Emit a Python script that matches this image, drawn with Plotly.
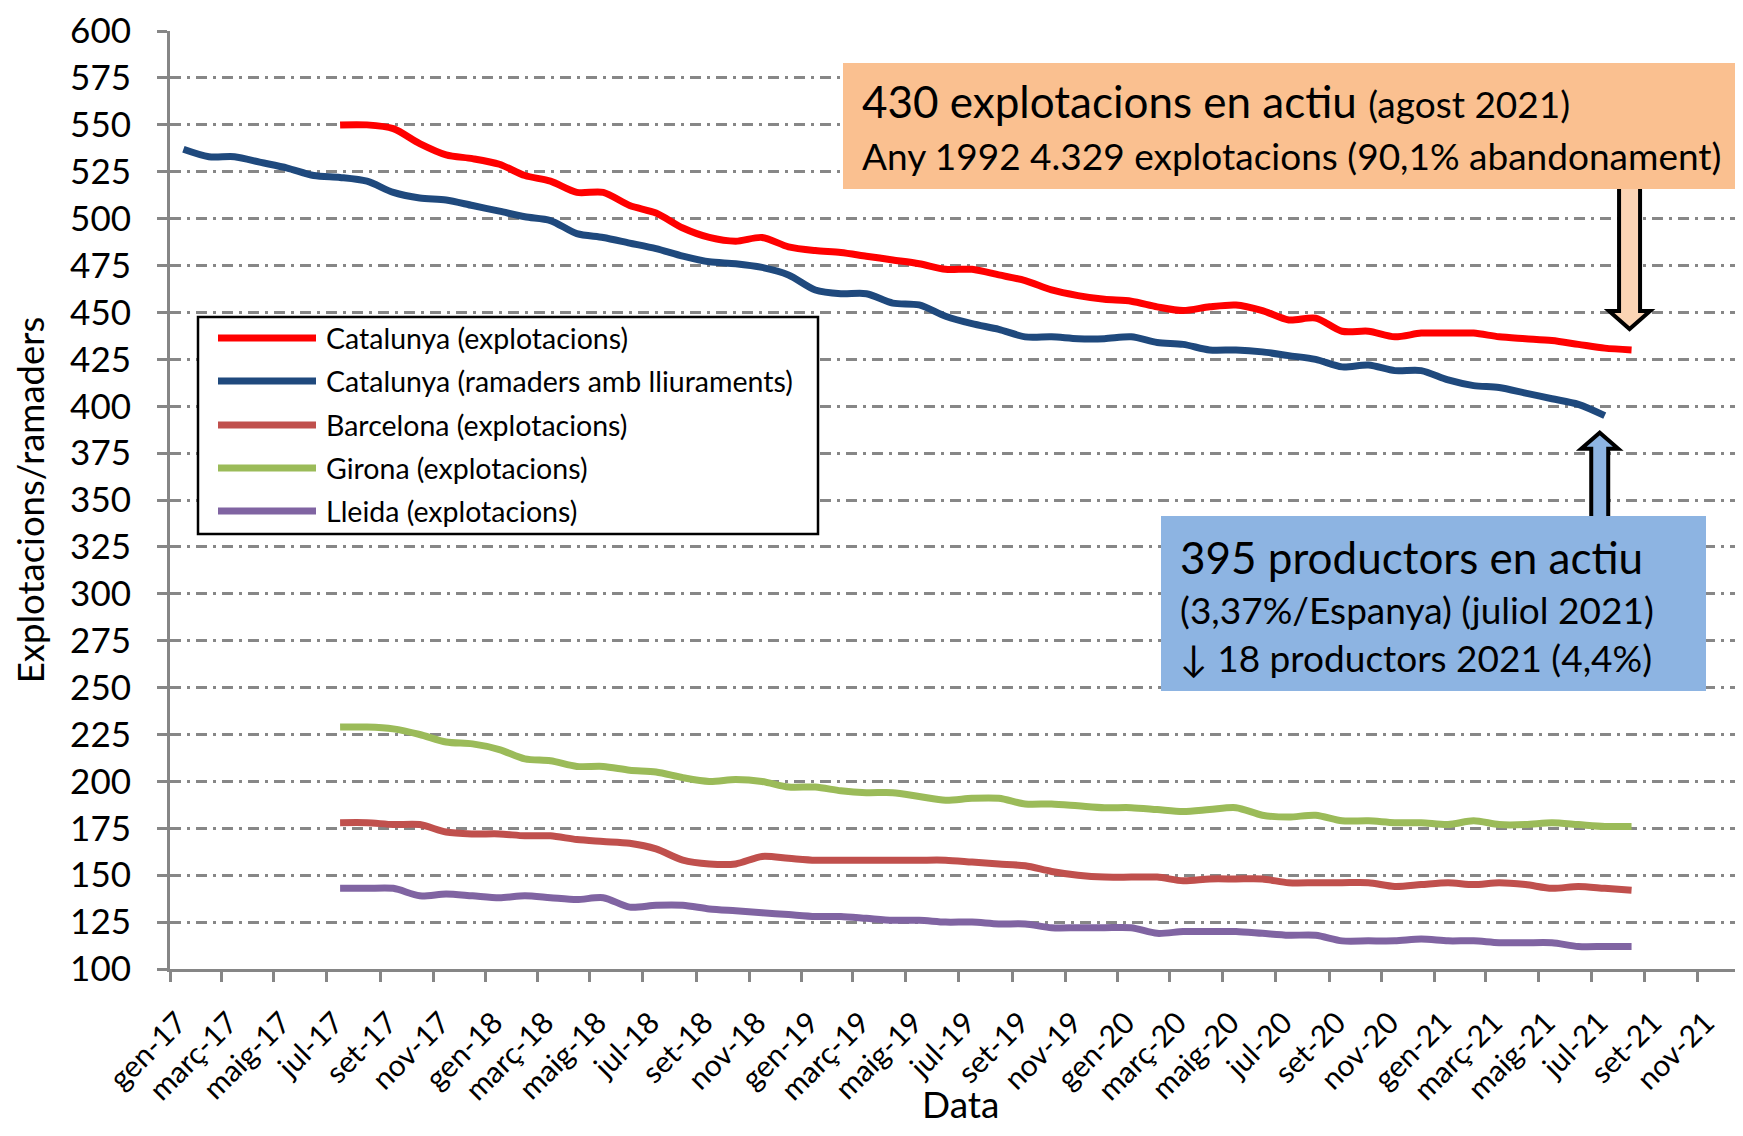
import pandas as pd
import plotly.graph_objects as go

# ---------------- data ----------------
months = pd.date_range("2017-01-01", "2021-08-01", freq="MS")

# Catalunya (ramaders amb lliuraments): gen-17 ... jul-21
cat_ramaders = [537, 533, 533, 530, 527, 523, 522, 520, 514, 511, 510, 507,
                504, 501, 499, 492, 490, 487, 484, 480, 477, 476, 474, 470,
                462, 460, 460, 455, 454, 448, 444, 441, 437, 437, 436, 436,
                437, 434, 433, 430, 430, 429, 427, 425, 421, 422, 419, 419,
                414, 411, 410, 407, 404, 401, 395]

# Series below: jul-17 ... ago-21
cat_explotacions = [550, 550, 548, 540, 534, 532,
                    529, 523, 520, 514, 514, 507, 503, 495, 490, 488, 490, 485,
                    483, 482, 480, 478, 476, 473, 473, 470, 467, 462, 459, 457,
                    456, 453, 451, 453, 454, 451, 446, 447, 440, 440, 437, 439,
                    439, 439, 437, 436, 435, 433, 431, 430]
barcelona = [178, 178, 177, 177, 173, 172,
             172, 171, 171, 169, 168, 167, 164, 158, 156, 156, 160, 159,
             158, 158, 158, 158, 158, 158, 157, 156, 155, 152, 150, 149,
             149, 149, 147, 148, 148, 148, 146, 146, 146, 146, 144, 145,
             146, 145, 146, 145, 143, 144, 143, 142]
girona = [229, 229, 228, 225, 221, 220,
          217, 212, 211, 208, 208, 206, 205, 202, 200, 201, 200, 197,
          197, 195, 194, 194, 192, 190, 191, 191, 188, 188, 187, 186,
          186, 185, 184, 185, 186, 182, 181, 182, 179, 179, 178, 178,
          177, 179, 177, 177, 178, 177, 176, 176]
lleida = [143, 143, 143, 139, 140, 139,
          138, 139, 138, 137, 138, 133, 134, 134, 132, 131, 130, 129,
          128, 128, 127, 126, 126, 125, 125, 124, 124, 122, 122, 122,
          122, 119, 120, 120, 120, 119, 118, 118, 115, 115, 115, 116,
          115, 115, 114, 114, 114, 112, 112, 112]

series_names = ["Catalunya (explotacions)",
                "Catalunya (ramaders amb lliuraments)",
                "Barcelona (explotacions)",
                "Girona (explotacions)",
                "Lleida (explotacions)"]
series_colors = ["#FF0000", "#1F497D", "#C0504D", "#9BBB59", "#8064A2"]

tick_dates = pd.date_range("2017-01-01", "2021-11-01", freq="2MS")
tick_labels = ["gen-17", "març-17", "maig-17", "jul-17", "set-17", "nov-17",
               "gen-18", "març-18", "maig-18", "jul-18", "set-18", "nov-18",
               "gen-19", "març-19", "maig-19", "jul-19", "set-19", "nov-19",
               "gen-20", "març-20", "maig-20", "jul-20", "set-20", "nov-20",
               "gen-21", "març-21", "maig-21", "jul-21", "set-21", "nov-21"]

x_title = "Data"
y_title = "Explotacions/ramaders"
box1_line1 = "430 explotacions en actiu"
box1_line1b = "(agost 2021)"
box1_line2 = "Any 1992 4.329 explotacions (90,1% abandonament)"
box2_lines = ["395 productors en actiu",
              "(3,37%/Espanya) (juliol 2021)",
              "\u2193 18 productors 2021 (4,4%)"]

# ---------------- geometry ----------------
OFF = 8                      # default page (body) margin of the html page
PAGE_W, PAGE_H = 1743, 1136
FIG_W, FIG_H = PAGE_W - 2 * OFF, PAGE_H - 2 * OFF
PL, PR, PT, PB = 170, 1735, 31, 969          # plot area in page pixels
ML, MT = PL - OFF, PT - OFF
MR = FIG_W - (PR - OFF)
MB = FIG_H - (PB - OFF)
FONT = "Lato"


def px(x):
    return (x - PL) / (PR - PL)


def py(y):
    return (PB - y) / (PB - PT)


m_ram = months[:len(cat_ramaders)]
m_oth = months[6:6 + len(cat_explotacions)]
series_x = [m_oth, m_ram, m_oth, m_oth, m_oth]
series_y = [cat_explotacions, cat_ramaders, barcelona, girona, lleida]

fig = go.Figure()
for name, col, xs, ys in zip(series_names, series_colors, series_x, series_y):
    fig.add_trace(go.Scatter(
        x=xs, y=ys, name=name, mode="lines",
        line=dict(color=col, width=7, shape="spline", smoothing=0.8),
        xperiod="M1", xperiodalignment="middle", showlegend=False))

shapes = []
annotations = []


# ----- arrows (anchored at the last data points, pixel offsets) -----
def mid_month(d):
    nxt = d + pd.offsets.MonthBegin(1)
    return (d + (nxt - d) / 2).strftime("%Y-%m-%d %H:%M:%S")


def arrow_path(cx, shaft_hw, head_hw, tip, base, end):
    return (f"M {cx - shaft_hw},{end} L {cx - shaft_hw},{base} L {cx - head_hw},{base} "
            f"L {cx},{tip} L {cx + head_hw},{base} L {cx + shaft_hw},{base} "
            f"L {cx + shaft_hw},{end} Z")


shapes.append(dict(type="path", xref="x", yref="y", xsizemode="pixel", ysizemode="pixel",
                   xanchor=mid_month(m_oth[-1]), yanchor=cat_explotacions[-1],
                   path=arrow_path(-2, 10.5, 20.5, 21, 39, 170),
                   fillcolor="#FBD4B4", line=dict(color="black", width=4), layer="above"))
shapes.append(dict(type="path", xref="x", yref="y", xsizemode="pixel", ysizemode="pixel",
                   xanchor=mid_month(m_ram[-1]), yanchor=cat_ramaders[-1],
                   path=arrow_path(-5, 8.5, 18.5, -17, -33, -112),
                   fillcolor="#8DB4E2", line=dict(color="black", width=4), layer="above"))

# ----- text boxes -----
shapes.append(dict(type="rect", xref="paper", yref="paper",
                   x0=px(843), x1=px(1760), y0=py(189), y1=py(63),
                   fillcolor="#FAC090", line=dict(width=0), layer="above"))
shapes.append(dict(type="rect", xref="paper", yref="paper",
                   x0=px(1161), x1=px(1706), y0=py(691), y1=py(516),
                   fillcolor="#8DB4E2", line=dict(width=0), layer="above"))

annotations.append(dict(xref="paper", yref="paper", x=px(860), y=py(101),
                        xanchor="left", yanchor="middle", showarrow=False,
                        text=f"{box1_line1} <span style='font-size:37px'>{box1_line1b}</span>",
                        font=dict(family=FONT, size=44, color="black")))
annotations.append(dict(xref="paper", yref="paper", x=px(860), y=py(155),
                        xanchor="left", yanchor="middle", showarrow=False,
                        text=box1_line2, font=dict(family=FONT, size=37, color="black")))
for txt, yy, fs in zip(box2_lines, [557, 609, 657], [44, 37, 37]):
    annotations.append(dict(xref="paper", yref="paper", x=px(1178), y=py(yy),
                            xanchor="left", yanchor="middle", showarrow=False,
                            text=txt, font=dict(family=FONT, size=fs, color="black")))

# ----- legend (drawn as a framed box with long line samples) -----
shapes.append(dict(type="rect", xref="paper", yref="paper",
                   x0=px(198), x1=px(818), y0=py(534), y1=py(317),
                   fillcolor="white", line=dict(color="black", width=2.5), layer="above"))
legend_rows = [338, 381, 425, 468, 511]
for name, col, yy in zip(series_names, series_colors, legend_rows):
    shapes.append(dict(type="line", xref="paper", yref="paper",
                       x0=px(218), x1=px(316), y0=py(yy), y1=py(yy),
                       line=dict(color=col, width=7), layer="above"))
    annotations.append(dict(xref="paper", yref="paper", x=px(324), y=py(yy),
                            xanchor="left", yanchor="middle", showarrow=False,
                            text=name, font=dict(family=FONT, size=28.5, color="black")))

# x-axis title, kept fully inside the page
annotations.append(dict(xref="paper", yref="paper", x=px(960), y=py(PAGE_H - OFF),
                        xanchor="center", yanchor="bottom", showarrow=False,
                        text=x_title, font=dict(family=FONT, size=37, color="black")))

fig.update_layout(
    width=FIG_W, height=FIG_H,
    margin=dict(l=ML, r=MR, t=MT, b=MB, pad=0, autoexpand=False),
    paper_bgcolor="white", plot_bgcolor="white",
    font=dict(family=FONT, color="black"),
    showlegend=False,
    shapes=shapes, annotations=annotations,
    xaxis=dict(type="date", range=["2017-01-01", "2021-12-14"], automargin=False,
               tickmode="array", tickvals=tick_dates, ticktext=tick_labels,
               tickangle=-45, ticks="outside", ticklen=10, tickwidth=3,
               tickcolor="#868686", showline=True, linecolor="#868686", linewidth=3,
               showgrid=False, zeroline=False,
               ticklabelstandoff=11, ticklabelshift=8,
               tickfont=dict(family=FONT, size=30, color="black")),
    yaxis=dict(range=[100, 600.05], tickmode="linear", tick0=100, dtick=25,
               automargin=False,
               showgrid=True, gridcolor="#878787", gridwidth=2.5,
               griddash="11px,6px,3px,6px",
               showline=True, linecolor="#868686", linewidth=3,
               ticks="outside", ticklen=10, tickwidth=3, tickcolor="#868686",
               zeroline=False, ticklabelstandoff=19, ticklabeloverflow="allow",
               tickfont=dict(family=FONT, size=35, color="black"),
               title=dict(text=y_title,
                          font=dict(family=FONT, size=36.5, color="black"),
                          standoff=18)),
)

fig.write_html("out.html")
